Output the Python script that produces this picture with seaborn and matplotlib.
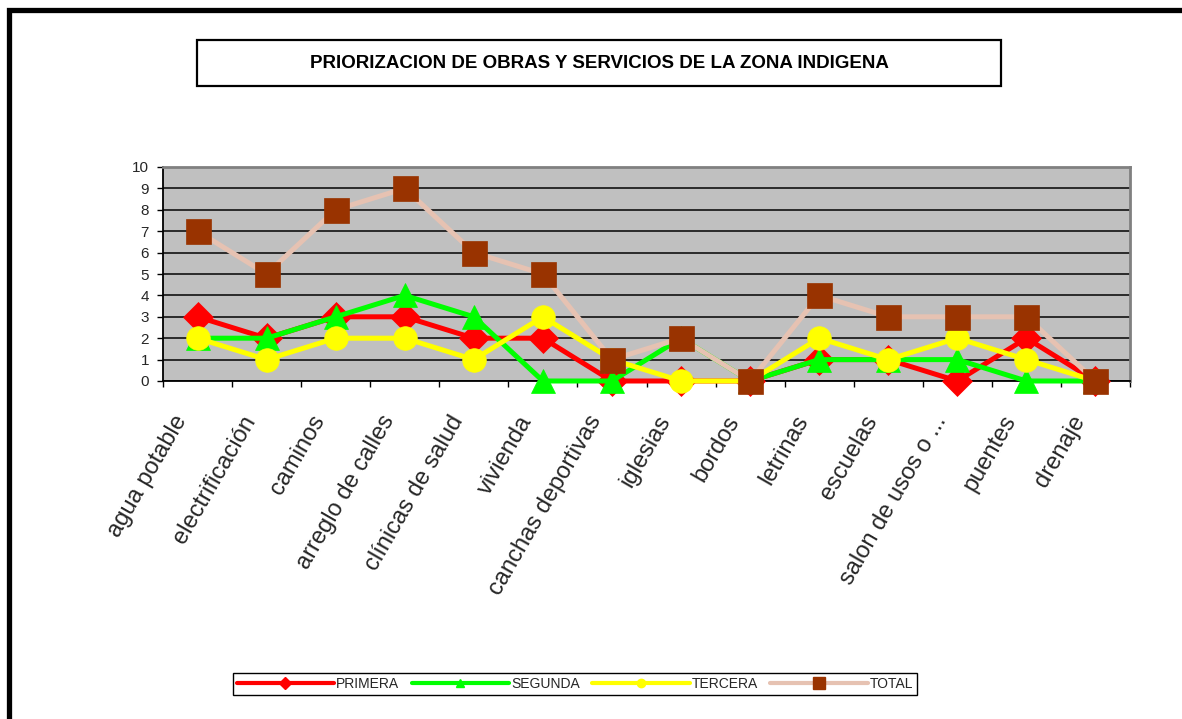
import matplotlib
matplotlib.use('Agg')
import matplotlib.pyplot as plt
import matplotlib.transforms as mtransforms
from matplotlib.lines import Line2D
from matplotlib.patches import Rectangle
import seaborn as sns
import pandas as pd
import numpy as np

# ---- data ----
categories = ["agua potable", "electrificación", "caminos", "arreglo de calles",
              "clínicas de salud", "vivienda", "canchas deportivas", "iglesias",
              "bordos", "letrinas", "escuelas", "salon de usos o ...", "puentes",
              "drenaje"]
primera = [3, 2, 3, 3, 2, 2, 0, 0, 0, 1, 1, 0, 2, 0]
segunda = [2, 2, 3, 4, 3, 0, 0, 2, 0, 1, 1, 1, 0, 0]
tercera = [2, 1, 2, 2, 1, 3, 1, 0, 0, 2, 1, 2, 1, 0]
total = [7, 5, 8, 9, 6, 5, 1, 2, 0, 4, 3, 3, 3, 0]
series_names = ["PRIMERA", "SEGUNDA", "TERCERA", "TOTAL"]
yticks = list(range(0, 11))
title = "PRIORIZACION DE OBRAS Y SERVICIOS DE LA ZONA INDIGENA"

df = pd.DataFrame({"idx": np.arange(len(categories)), "cat": categories,
                   "PRIMERA": primera, "SEGUNDA": segunda,
                   "TERCERA": tercera, "TOTAL": total})

sns.set_theme(style="white")
plt.rcParams['font.family'] = ['Liberation Sans', 'DejaVu Sans']

W, H = 1182, 719
fig = plt.figure(figsize=(W / 100, H / 100), dpi=100)
fig.patch.set_facecolor('white')

L, R, T, B = 163, 1130, 167, 381
ax = fig.add_axes([L / W, 1 - B / H, (R - L) / W, (B - T) / H])
ax.set_facecolor('#C0C0C0')

styles = {
    "PRIMERA": dict(color='#FF0000', marker='D', markersize=15, mfc='#FF0000', mec='#FF0000'),
    "SEGUNDA": dict(color='#00FF00', marker='^', markersize=17, mfc='#00FF00', mec='#00FF00'),
    "TERCERA": dict(color='#FFFF00', marker='o', markersize=17, mfc='#FFFF00', mec='#FFFF00'),
    "TOTAL": dict(color='#E6C2B2', marker='s', markersize=18, mfc='#993300', mec='#993300'),
}
for i, name in enumerate(series_names):
    st = styles[name]
    sns.lineplot(data=df, x="idx", y=name, ax=ax, color=st['color'], lw=3.6,
                 marker=st['marker'], markersize=st['markersize'],
                 markerfacecolor=st['mfc'], markeredgecolor=st['mec'],
                 markeredgewidth=0.5, legend=False, zorder=3 + i, clip_on=False)

ax.set_xlim(-0.5, len(categories) - 0.5)
ax.set_ylim(0, 10)
ax.set_yticks(yticks)
ax.set_yticklabels([str(v) for v in yticks], fontsize=11)
ax.set_xticks(np.arange(len(categories)))
ax.set_xticklabels(categories, rotation=60, ha='right', va='top',
                   rotation_mode='anchor', fontsize=17)
ax.set_xticks(np.arange(-0.5, len(categories), 1), minor=True)
ax.tick_params(axis='x', which='major', length=0, pad=22)
ax.tick_params(axis='x', which='minor', length=4, width=1, color='black',
               direction='out', bottom=True)
ax.tick_params(axis='y', which='major', length=4, width=1, color='black',
               direction='out', left=True, pad=6)
ax.set_xlabel("")
ax.set_ylabel("")

offset = mtransforms.ScaledTranslation(-25 / 100, 0, fig.dpi_scale_trans)
for lab in ax.get_xticklabels():
    lab.set_transform(lab.get_transform() + offset)

ax.grid(axis='y', color='#111111', lw=1.2)
ax.grid(axis='x', visible=False)
ax.set_axisbelow(True)
for s in ['left', 'bottom']:
    ax.spines[s].set_color('black')
    ax.spines[s].set_linewidth(1.3)
for s in ['top', 'right']:
    ax.spines[s].set_color('#808080')
    ax.spines[s].set_linewidth(2)

# title with box
fig.text((197 + 1001) / 2 / W, 1 - 63 / H, title, ha='center', va='center',
         fontsize=13.5, fontweight='bold', color='black')
fig.patches.append(Rectangle((197 / W, 1 - 86 / H), (1001 - 197) / W, 46 / H,
                             transform=fig.transFigure, fill=False,
                             lw=1.6, ec='black'))

# outer thick border (top and left)
fig.lines.append(Line2D([9.5 / W, 9.5 / W, 1.0], [0, 1 - 9.5 / H, 1 - 9.5 / H],
                        transform=fig.transFigure, color='black', lw=3.8,
                        solid_joinstyle='miter', solid_capstyle='butt'))

# legend
handles = []
for name in series_names:
    st = styles[name]
    ms = 6 if name != "TOTAL" else 8
    handles.append(Line2D([], [], color=st['color'], lw=3, marker=st['marker'],
                          markersize=ms, mfc=st['mfc'], mec=st['mec']))
leg = fig.legend(handles, series_names, loc='center',
                 bbox_to_anchor=((229 + 921) / 2 / W, 1 - 684 / H),
                 ncol=4, frameon=True, fancybox=False, edgecolor='black',
                 framealpha=1, fontsize=10, handlelength=7.0, handletextpad=0.15,
                 columnspacing=0.9, borderpad=0.3, borderaxespad=0)
leg.get_frame().set_linewidth(1)

fig.savefig('out.png', dpi=100)
